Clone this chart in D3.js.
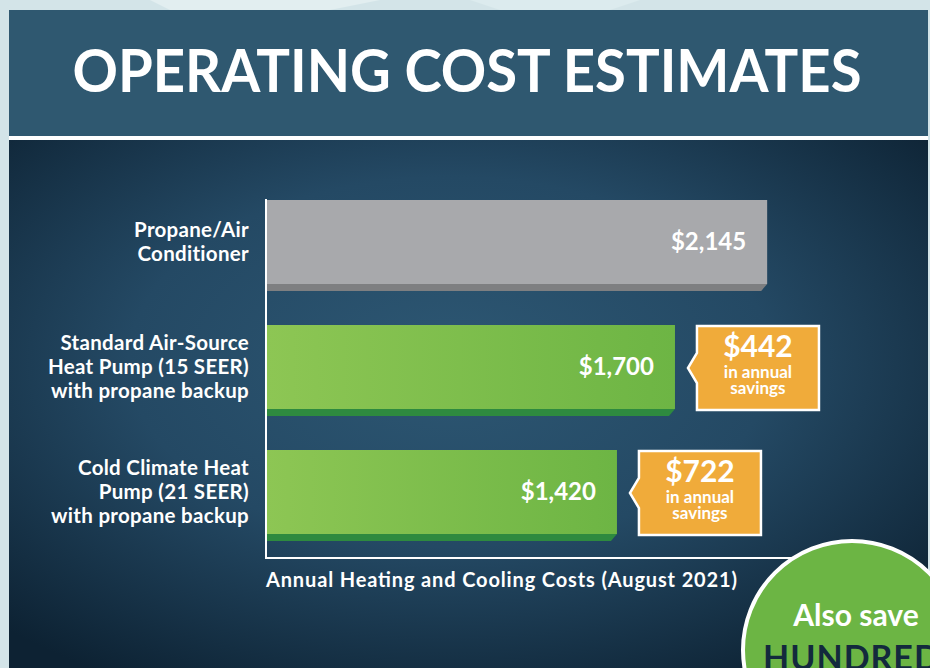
<!DOCTYPE html>
<html lang="en">
<head>
  <meta charset="UTF-8">
  <title>Operating Cost Estimates</title>
  <script src="https://d3js.org/d3.v7.min.js"></script>
  <style>
    body {
      margin: 0;
      background: #d3e4e8;
      font-family: Lato, "Open Sans", sans-serif;
    }
    svg { display: block; }
  </style>
</head>
<body>
  <svg width="930" height="668"></svg>

  <script>
    // chart data
    const categories = ["Propane/Air Conditioner",
                        "Standard Air-Source Heat Pump (15 SEER) with propane backup",
                        "Cold Climate Heat Pump (21 SEER) with propane backup"];
    const labelLines = [["Propane/Air", "Conditioner"],
                        ["Standard Air-Source", "Heat Pump (15 SEER)", "with propane backup"],
                        ["Cold Climate Heat", "Pump (21 SEER)", "with propane backup"]];
    const costs = [2145, 1700, 1420];
    const savings = [null, 442, 722];
    const title = "OPERATING COST ESTIMATES";
    const axisTitle = "Annual Heating and Cooling Costs (August 2021)";

    const svg = d3.select("svg"),
          width = +svg.attr("width"),
          height = +svg.attr("height");

    const fmt = d3.format("$,");

    const defs = svg.append("defs");
    const bg = defs.append("radialGradient").attr("id", "panelGrad")
      .attr("cx", "48%").attr("cy", "42%").attr("r", "70%");
    bg.append("stop").attr("offset", "0%").attr("stop-color", "#2d5773");
    bg.append("stop").attr("offset", "50%").attr("stop-color", "#244964");
    bg.append("stop").attr("offset", "100%").attr("stop-color", "#0d2233");

    const green = defs.append("linearGradient").attr("id", "greenGrad");
    green.append("stop").attr("offset", "0%").attr("stop-color", "#8dc654");
    green.append("stop").attr("offset", "100%").attr("stop-color", "#6db544");

    // light backdrop shapes
    svg.append("rect").attr("width", width).attr("height", height).attr("fill", "#d3e4e8");
    svg.append("polygon").attr("points", "150,0 380,0 330,10 170,10").attr("fill", "#e2eef0");
    svg.append("polygon").attr("points", "470,0 640,0 610,10 500,10").attr("fill", "#dcebee");

    // header + dark panel
    svg.append("rect").attr("x", 9).attr("y", 10).attr("width", 919).attr("height", 126)
      .attr("fill", "#2f5870");
    svg.append("rect").attr("x", 9).attr("y", 136).attr("width", 919).attr("height", 4)
      .attr("fill", "#ffffff");
    svg.append("rect").attr("x", 9).attr("y", 140).attr("width", 919).attr("height", height - 140)
      .attr("fill", "url(#panelGrad)");

    svg.append("text")
      .attr("x", 467).attr("y", 92)
      .attr("text-anchor", "middle")
      .attr("fill", "#fff")
      .attr("font-size", 60).attr("font-weight", 700)
      .attr("textLength", 789).attr("lengthAdjust", "spacingAndGlyphs")
      .text(title);

    // scales
    const x0 = 267;
    const x = d3.scaleLinear().domain([-269, 2400]).range([x0, x0 + 553]);
    const y = d3.scaleBand().domain(categories).range([200, 541]).paddingInner(0.272);
    const strip = 7;
    const face = y.bandwidth() - strip;

    const bars = svg.append("g").selectAll("g")
      .data(categories)
      .enter().append("g");

    bars.append("rect")
      .attr("x", x0)
      .attr("y", d => y(d))
      .attr("width", (d, i) => x(costs[i]) - x0)
      .attr("height", face)
      .attr("fill", (d, i) => i === 0 ? "#a8a9ac" : "url(#greenGrad)");

    bars.append("polygon")
      .attr("points", (d, i) => {
        const t = y(d) + face, e = x(costs[i]);
        return `${x0},${t} ${e},${t} ${e - 6},${t + strip} ${x0},${t + strip}`;
      })
      .attr("fill", (d, i) => i === 0 ? "#7e7f81" : "#2e8a3f");

    bars.append("text")
      .attr("x", (d, i) => x(costs[i]) - 21)
      .attr("y", d => y(d) + face / 2 + 8)
      .attr("text-anchor", "end")
      .attr("fill", "#fff")
      .attr("font-size", 24).attr("font-weight", 700)
      .text((d, i) => fmt(costs[i]));

    // category labels
    bars.append("text")
      .attr("text-anchor", "end")
      .attr("fill", "#fff")
      .attr("font-size", 20.5).attr("font-weight", 700)
      .attr("letter-spacing", 0.3)
      .each(function(d, i) {
        const lines = labelLines[i];
        const cy = y(d) + face / 2 + 7;
        d3.select(this).selectAll("tspan")
          .data(lines)
          .enter().append("tspan")
            .attr("x", 249)
            .attr("y", (l, j) => cy + (j - (lines.length - 1) / 2) * 24)
            .text(l => l);
      });

    // savings callouts
    const callouts = bars.filter((d, i) => savings[i] != null);
    callouts.append("path")
      .attr("d", d => {
        const i = categories.indexOf(d);
        const e = x(costs[i]);
        const l = e + 22, r = l + 122, t = y(d) + 1, b = t + face, m = (t + b) / 2;
        return `M${l},${t}H${r}V${b}H${l}V${m + 15}L${e + 13},${m}L${l},${m - 15}Z`;
      })
      .attr("fill", "#f0ab3a")
      .attr("stroke", "#fff")
      .attr("stroke-width", 2.5);

    callouts.each(function(d) {
      const i = categories.indexOf(d);
      const cx = x(costs[i]) + 22 + 61, t = y(d) + 1;
      const g = d3.select(this);
      g.append("text").attr("x", cx).attr("y", t + 31)
        .attr("text-anchor", "middle").attr("fill", "#fff")
        .attr("font-size", 30).attr("font-weight", 700)
        .text(fmt(savings[i]));
      g.append("text").attr("x", cx).attr("y", t + 52)
        .attr("text-anchor", "middle").attr("fill", "#fff")
        .attr("font-size", 17).attr("font-weight", 700)
        .text("in annual");
      g.append("text").attr("x", cx).attr("y", t + 68)
        .attr("text-anchor", "middle").attr("fill", "#fff")
        .attr("font-size", 17).attr("font-weight", 700)
        .text("savings");
    });

    // axes
    svg.append("line")
      .attr("x1", 266).attr("x2", 266).attr("y1", 199).attr("y2", 559)
      .attr("stroke", "#fff").attr("stroke-width", 2);
    svg.append("line")
      .attr("x1", 265).attr("x2", 820).attr("y1", 558).attr("y2", 558)
      .attr("stroke", "#fff").attr("stroke-width", 2);

    svg.append("text")
      .attr("x", 266).attr("y", 587)
      .attr("fill", "#fff")
      .attr("font-size", 20).attr("font-weight", 700)
      .attr("textLength", 471).attr("lengthAdjust", "spacing")
      .text(axisTitle);

    // badge
    svg.append("circle")
      .attr("cx", 852).attr("cy", 650).attr("r", 109)
      .attr("fill", "#6cb544")
      .attr("stroke", "#fff").attr("stroke-width", 4);
    svg.append("text")
      .attr("x", 856).attr("y", 626)
      .attr("text-anchor", "middle")
      .attr("fill", "#fff")
      .attr("font-size", 30).attr("font-weight", 700)
      .text("Also save");
    svg.append("text")
      .attr("x", 763).attr("y", 670)
      .attr("fill", "#13293d")
      .attr("font-size", 34).attr("font-weight", 700)
      .attr("letter-spacing", 1)
      .text("HUNDREDS");
  </script>
</body>
</html>
